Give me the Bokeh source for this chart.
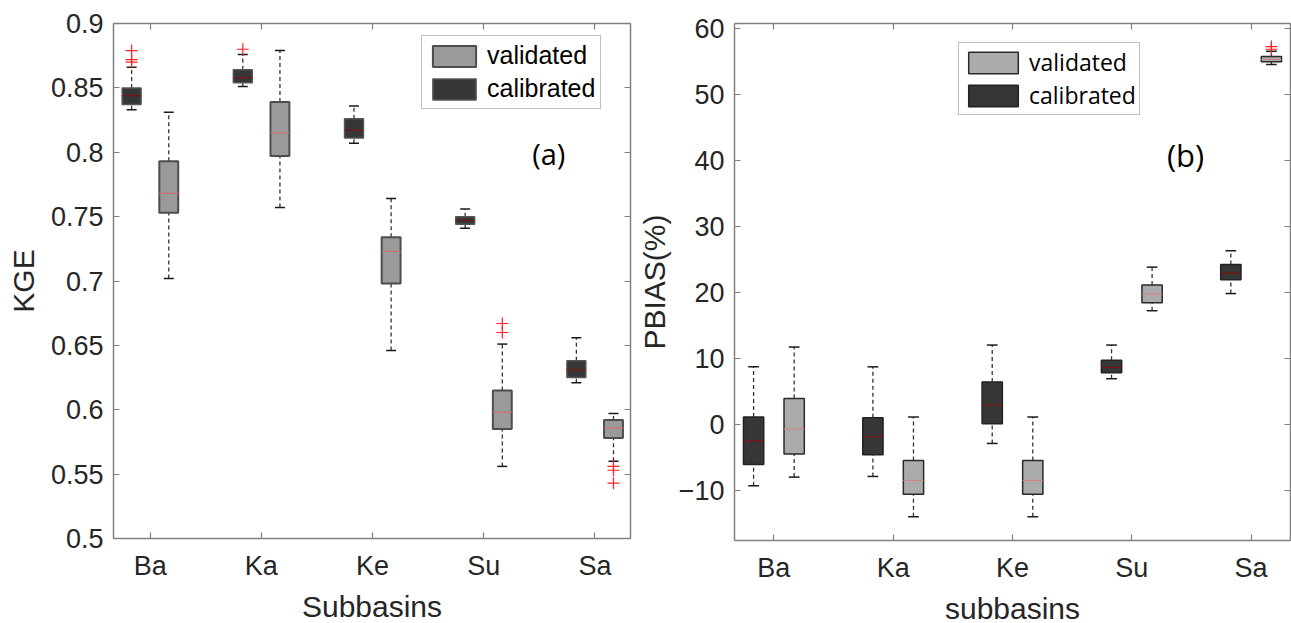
from bokeh.plotting import figure
from bokeh.layouts import row
from bokeh.models import (Range1d, FixedTicker, LinearAxis, Legend, LegendItem,
                          Label, NumeralTickFormatter, ColumnDataSource)
from bokeh.embed import file_html
from bokeh.resources import INLINE

categories = ["Ba", "Ka", "Ke", "Su", "Sa"]

# ---- KGE (panel a) ----
kge_cal_lo = [0.833, 0.851, 0.807, 0.741, 0.621]
kge_cal_q1 = [0.837, 0.854, 0.811, 0.744, 0.625]
kge_cal_med = [0.844, 0.858, 0.817, 0.747, 0.631]
kge_cal_q3 = [0.850, 0.864, 0.826, 0.750, 0.638]
kge_cal_hi = [0.866, 0.876, 0.836, 0.756, 0.656]
kge_cal_out = [[0.879, 0.872, 0.870], [0.880], [], [], []]

kge_val_lo = [0.702, 0.757, 0.646, 0.556, 0.560]
kge_val_q1 = [0.753, 0.797, 0.698, 0.585, 0.578]
kge_val_med = [0.768, 0.815, 0.723, 0.598, 0.586]
kge_val_q3 = [0.793, 0.839, 0.734, 0.615, 0.592]
kge_val_hi = [0.831, 0.879, 0.764, 0.651, 0.597]
kge_val_out = [[], [], [], [0.667, 0.660], [0.556, 0.553, 0.543]]

kge_ticks = [0.5, 0.55, 0.6, 0.65, 0.7, 0.75, 0.8, 0.85, 0.9]

# ---- PBIAS (panel b) ----
pb_cal_lo = [-9.2, -7.8, -2.8, 7.0, 19.9]
pb_cal_q1 = [-6.0, -4.5, 0.2, 7.9, 22.0]
pb_cal_med = [-2.4, -1.8, 3.0, 8.7, 23.0]
pb_cal_q3 = [1.2, 1.1, 6.5, 9.8, 24.3]
pb_cal_hi = [8.8, 8.8, 12.1, 12.1, 26.4]
pb_cal_out = [[], [], [], [], []]

pb_val_lo = [-7.9, -13.9, -13.9, 17.3, 54.6]
pb_val_q1 = [-4.4, -10.5, -10.5, 18.5, 55.0]
pb_val_med = [-0.6, -8.4, -8.4, 19.8, 55.35]
pb_val_q3 = [4.0, -5.4, -5.4, 21.2, 55.8]
pb_val_hi = [11.8, 1.2, 1.2, 23.9, 56.6]
pb_val_out = [[], [], [], [], [57.3, 56.9]]

pb_ticks = [-10, 0, 10, 20, 30, 40, 50, 60]

TXT = "#262626"
AX = "#808080"
FONT = "Liberation Sans"


def draw_boxes(p, lo, q1, med, q3, hi, out, offset, fill, edge, edge_w, med_color):
    hw = 0.085
    cw = 0.045
    xs = [i + 1 + offset for i in range(len(categories))]
    src = ColumnDataSource(dict(
        x=xs, l=[x - hw for x in xs], r=[x + hw for x in xs],
        cl=[x - cw for x in xs], cr=[x + cw for x in xs],
        lo=lo, q1=q1, med=med, q3=q3, hi=hi))
    p.segment(x0="x", x1="x", y0="q3", y1="hi", source=src, line_color="#333333",
              line_width=1.3, line_dash="4 3")
    p.segment(x0="x", x1="x", y0="lo", y1="q1", source=src, line_color="#333333",
              line_width=1.3, line_dash="4 3")
    p.segment(x0="cl", x1="cr", y0="hi", y1="hi", source=src, line_color="#1a1a1a", line_width=1.5)
    p.segment(x0="cl", x1="cr", y0="lo", y1="lo", source=src, line_color="#1a1a1a", line_width=1.5)
    r = p.quad(left="l", right="r", bottom="q1", top="q3", source=src, fill_color=fill,
               line_color=edge, line_width=edge_w)
    p.segment(x0="l", x1="r", y0="med", y1="med", source=src, line_color=med_color, line_width=1.2)
    ox, oy = [], []
    for i, vals in enumerate(out):
        for v in vals:
            ox.append(xs[i])
            oy.append(v)
    if ox:
        p.scatter(ox, oy, marker="cross", size=12, line_color="#ff2020", line_width=1.2)
    return r


def mirror_axis(ticks):
    return LinearAxis(ticker=FixedTicker(ticks=ticks), major_label_text_font_size="0px",
                      major_label_text_color=None, major_label_standoff=0,
                      major_tick_in=6, major_tick_out=0,
                      minor_tick_line_color=None, axis_line_color=AX, axis_line_width=1.5,
                      major_tick_line_color=AX, major_tick_line_width=1.2)


def style(p, ticks, fmt=None):
    p.xgrid.visible = False
    p.ygrid.visible = False
    p.outline_line_color = None
    p.xaxis.ticker = FixedTicker(ticks=[1, 2, 3, 4, 5])
    p.xaxis.major_label_overrides = {i + 1: c for i, c in enumerate(categories)}
    p.yaxis.ticker = FixedTicker(ticks=ticks)
    if fmt is not None:
        p.yaxis.formatter = fmt
    for ax in [p.xaxis[0], p.yaxis[0]]:
        ax.major_label_text_font = FONT
        ax.major_label_text_font_size = "27px"
        ax.major_label_text_color = TXT
        ax.axis_label_text_font = FONT
        ax.axis_label_text_font_size = "30px"
        ax.axis_label_text_font_style = "normal"
        ax.axis_label_text_color = TXT
        ax.axis_line_color = AX
        ax.axis_line_width = 1.5
        ax.major_tick_line_color = AX
        ax.major_tick_line_width = 1.2
        ax.major_tick_in = 6
        ax.major_tick_out = 0
        ax.minor_tick_line_color = None
    p.xaxis.major_label_standoff = 12
    p.xaxis.axis_label_standoff = 6
    p.yaxis.major_label_standoff = 10
    p.add_layout(mirror_axis([1, 2, 3, 4, 5]), "above")
    p.add_layout(mirror_axis(ticks), "right")


# ---------------- panel (a) ----------------
p1 = figure(frame_width=517, frame_height=515, x_range=Range1d(0.67, 5.32),
            y_range=Range1d(0.5, 0.9), output_backend="svg", toolbar_location=None,
            min_border_left=113, min_border_right=2, min_border_top=23, min_border_bottom=85,
            x_axis_label="Subbasins", y_axis_label="KGE", background_fill_color="white",
            border_fill_color="white")
style(p1, kge_ticks, NumeralTickFormatter(format="0.[00]"))
p1.yaxis[0].axis_label_standoff = 8

r_cal1 = draw_boxes(p1, kge_cal_lo, kge_cal_q1, kge_cal_med, kge_cal_q3, kge_cal_hi, kge_cal_out,
                    -0.167, "#363636", "#555555", 1.5, "#7a1414")
r_val1 = draw_boxes(p1, kge_val_lo, kge_val_q1, kge_val_med, kge_val_q3, kge_val_hi, kge_val_out,
                    0.167, "#9a9a9a", "#4d4d4d", 2, "#cc6f6f")

leg1 = Legend(items=[LegendItem(label="validated", renderers=[r_val1]),
                     LegendItem(label="calibrated", renderers=[r_cal1])],
              location=(308, 429), label_text_font=FONT, label_text_font_size="25px",
              label_text_color="black", glyph_width=54, glyph_height=26, padding=5,
              spacing=4, label_standoff=6, border_line_color="#808080", border_line_width=1,
              margin=0, background_fill_alpha=1)
p1.add_layout(leg1, "center")
p1.add_layout(Label(x=4.585, y=0.799, text="(a)", text_align="center", text_baseline="middle",
                    text_font="Open Sans", text_font_size="29px", text_color="black"))

# ---------------- panel (b) ----------------
p2 = figure(frame_width=556, frame_height=517, x_range=Range1d(0.67, 5.33),
            y_range=Range1d(-17.5, 60.8), output_backend="svg", toolbar_location=None,
            min_border_left=102, min_border_right=1, min_border_top=20, min_border_bottom=86,
            x_axis_label="subbasins", y_axis_label="PBIAS(%)", background_fill_color="white",
            border_fill_color="white")
style(p2, pb_ticks)
p2.yaxis[0].axis_label_standoff = 5

r_cal2 = draw_boxes(p2, pb_cal_lo, pb_cal_q1, pb_cal_med, pb_cal_q3, pb_cal_hi, pb_cal_out,
                    -0.17, "#363636", "#222222", 1.5, "#7a1414")
r_val2 = draw_boxes(p2, pb_val_lo, pb_val_q1, pb_val_med, pb_val_q3, pb_val_hi, pb_val_out,
                    0.17, "#ababab", "#2a2a2a", 1.5, "#d08585")

leg2 = Legend(items=[LegendItem(label="validated", renderers=[r_val2]),
                     LegendItem(label="calibrated", renderers=[r_cal2])],
              location=(224, 425), label_text_font="Open Sans", label_text_font_size="23px",
              label_text_color="black", glyph_width=62, glyph_height=27, padding=3,
              spacing=1, label_standoff=5, border_line_color="#808080", border_line_width=1,
              margin=0, background_fill_alpha=1)
p2.add_layout(leg2, "center")
p2.add_layout(Label(x=4.45, y=40.9, text="(b)", text_align="center", text_baseline="middle",
                    text_font="Open Sans", text_font_size="31px", text_color="black"))

layout = row(p1, p2)
open("out.html", "w").write(file_html(layout, INLINE))
